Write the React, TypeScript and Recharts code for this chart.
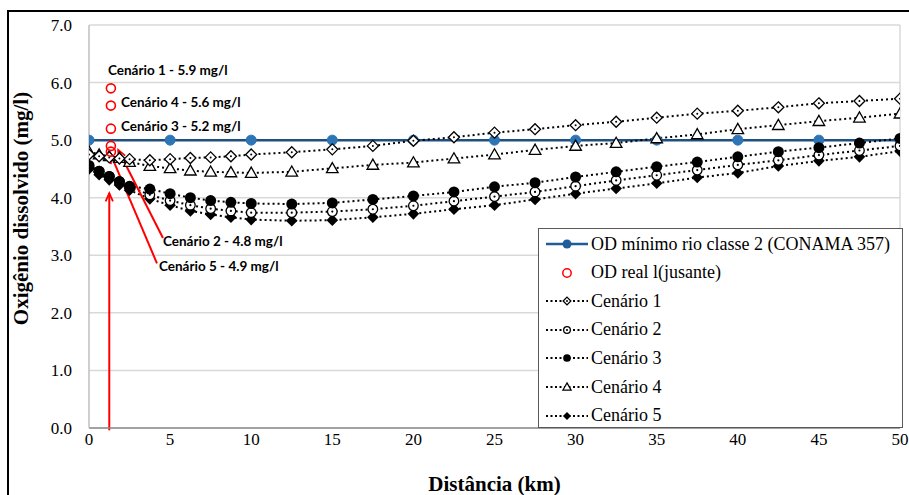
import React from 'react';
import {
  ComposedChart, Line, Scatter, XAxis, YAxis, CartesianGrid, ReferenceLine,
} from 'recharts';

// distance of each simulated point (km)
const distKm = [0, 0.625, 1.25, 1.875, 2.5, 3.75, 5, 6.25, 7.5, 8.75, 10, 12.5, 15, 17.5, 20, 22.5, 25, 27.5, 30, 32.5, 35, 37.5, 40, 42.5, 45, 47.5, 50];

const cenario1 = [4.75, 4.72, 4.70, 4.68, 4.67, 4.65, 4.67, 4.69, 4.70, 4.72, 4.75, 4.79, 4.84, 4.90, 4.99, 5.05, 5.13, 5.19, 5.26, 5.32, 5.39, 5.46, 5.51, 5.57, 5.64, 5.68, 5.72];
const cenario2 = [4.55, 4.46, 4.37, 4.28, 4.19, 4.05, 3.95, 3.87, 3.81, 3.77, 3.74, 3.74, 3.76, 3.80, 3.86, 3.94, 4.02, 4.10, 4.20, 4.30, 4.39, 4.48, 4.57, 4.65, 4.74, 4.82, 4.90];
const cenario3 = [4.56, 4.46, 4.37, 4.28, 4.20, 4.15, 4.07, 4.00, 3.95, 3.92, 3.90, 3.89, 3.91, 3.97, 4.03, 4.10, 4.19, 4.26, 4.36, 4.45, 4.54, 4.62, 4.71, 4.80, 4.87, 4.95, 5.03];
const cenario4 = [4.80, 4.75, 4.72, 4.69, 4.62, 4.55, 4.51, 4.47, 4.45, 4.44, 4.43, 4.45, 4.51, 4.57, 4.61, 4.68, 4.75, 4.83, 4.90, 4.95, 5.03, 5.10, 5.19, 5.26, 5.33, 5.39, 5.46];
const cenario5 = [4.50, 4.40, 4.31, 4.22, 4.13, 3.98, 3.87, 3.77, 3.71, 3.66, 3.62, 3.60, 3.61, 3.66, 3.72, 3.80, 3.87, 3.97, 4.07, 4.16, 4.25, 4.35, 4.43, 4.55, 4.64, 4.71, 4.81];

// CONAMA 357 class 2 minimum
const conamaKm = [0, 5, 10, 15, 20, 25, 30, 35, 40, 45, 50];
const conamaOD = [5, 5, 5, 5, 5, 5, 5, 5, 5, 5, 5];

// measured DO downstream, one per scenario
const realKm = [1.35, 1.35, 1.35, 1.35, 1.35];
const realOD = [5.9, 5.6, 5.2, 4.9, 4.8];

const xTicks = [0, 5, 10, 15, 20, 25, 30, 35, 40, 45, 50];
const yTicks = [0, 1, 2, 3, 4, 5, 6, 7];

const legendItems = ['OD mínimo rio classe 2 (CONAMA 357)', 'OD real l(jusante)', 'Cenário 1', 'Cenário 2', 'Cenário 3', 'Cenário 4', 'Cenário 5'];

const toRows = (xs: number[], ys: number[]) => xs.map((x, i) => ({ x, y: ys[i] }));

const SERIF = "'Liberation Serif', 'Times New Roman', serif";
const SANS = 'Lato, "Noto Sans", sans-serif';

type Kind = 'diamondOpen' | 'circleOpen' | 'circle' | 'triangle' | 'diamond';

function Marker({ cx, cy, kind, s = 1 }: { cx: number; cy: number; kind: Kind; s?: number }) {
  if (cx == null || cy == null) return null;
  if (kind === 'diamondOpen') {
    const r = 5.5 * s;
    return (
      <g>
        <polygon points={`${cx},${cy - r} ${cx + r},${cy} ${cx},${cy + r} ${cx - r},${cy}`} fill="#fff" stroke="#000" strokeWidth={1.3} />
        <circle cx={cx} cy={cy} r={1} fill="#000" />
      </g>
    );
  }
  if (kind === 'circleOpen') {
    const r = 4.8 * s;
    return (
      <g>
        <circle cx={cx} cy={cy} r={r} fill="#fff" stroke="#000" strokeWidth={1.3} />
        <circle cx={cx} cy={cy} r={1.1} fill="#000" />
      </g>
    );
  }
  if (kind === 'circle') {
    return <circle cx={cx} cy={cy} r={5.5 * s} fill="#000" />;
  }
  if (kind === 'triangle') {
    const r = 5.8 * s;
    return <polygon points={`${cx},${cy - r} ${cx + r},${cy + r * 0.75} ${cx - r},${cy + r * 0.75}`} fill="#fff" stroke="#000" strokeWidth={1.3} />;
  }
  const r = 5.8 * s;
  return <polygon points={`${cx},${cy - r} ${cx + r},${cy} ${cx},${cy + r} ${cx - r},${cy}`} fill="#000" />;
}

const dotFor = (kind: Kind) => (p: any) => <Marker key={`${kind}-${p.index}`} cx={p.cx} cy={p.cy} kind={kind} />;

function Arrow(props: any) {
  const { x1, y1, x2, y2 } = props;
  const ang = Math.atan2(y2 - y1, x2 - x1);
  const L = 9;
  const a1 = ang + Math.PI - 0.42;
  const a2 = ang + Math.PI + 0.42;
  return (
    <g>
      <line x1={x1} y1={y1} x2={x2} y2={y2} stroke="#ff0000" strokeWidth={2} />
      <polyline
        points={`${x2 + L * Math.cos(a1)},${y2 + L * Math.sin(a1)} ${x2},${y2} ${x2 + L * Math.cos(a2)},${y2 + L * Math.sin(a2)}`}
        fill="none" stroke="#ff0000" strokeWidth={1.8}
      />
    </g>
  );
}

function YTitle(props: any) {
  const vb = props.viewBox;
  const x = vb.x + 21;
  const y = vb.y + vb.height / 2 - 18;
  return (
    <text x={x} y={y} transform={`rotate(-90 ${x} ${y})`} textAnchor="middle" dominantBaseline="central"
      style={{ fontFamily: SERIF }} fontWeight="bold" fontSize={21} fill="#000">
      Oxigênio dissolvido (mg/l)
    </text>
  );
}

function XTitle(props: any) {
  const vb = props.viewBox;
  return (
    <text x={vb.x + vb.width / 2} y={vb.y + 63} textAnchor="middle" style={{ fontFamily: SERIF }} fontWeight="bold" fontSize={21} fill="#000">
      Distância (km)
    </text>
  );
}

function LegendSample({ i }: { i: number }) {
  const kinds: Kind[] = ['diamondOpen', 'circleOpen', 'circle', 'triangle', 'diamond'];
  return (
    <svg width={46} height={20} style={{ display: 'block' }}>
      {i === 0 && (
        <g>
          <line x1={2} y1={10} x2={44} y2={10} stroke="#1f5c99" strokeWidth={2.5} />
          <circle cx={23} cy={10} r={4.5} fill="#1f5c99" />
        </g>
      )}
      {i === 1 && <circle cx={23} cy={10} r={4.2} fill="none" stroke="#ff0000" strokeWidth={1.5} />}
      {i >= 2 && (
        <g>
          <line x1={2} y1={10} x2={44} y2={10} stroke="#000" strokeWidth={2} strokeDasharray="2 2.5" />
          <Marker cx={23} cy={10} kind={kinds[i - 2]} s={0.7} />
        </g>
      )}
    </svg>
  );
}

const noteStyle: React.CSSProperties = {
  position: 'absolute', fontFamily: SANS, fontWeight: 700, fontSize: 13.5, color: '#000', whiteSpace: 'nowrap', lineHeight: '15px',
};

export default function App() {
  const sc1 = toRows(distKm, cenario1);
  const sc2 = toRows(distKm, cenario2);
  const sc3 = toRows(distKm, cenario3);
  const sc4 = toRows(distKm, cenario4);
  const sc5 = toRows(distKm, cenario5);
  const conama = toRows(conamaKm, conamaOD);
  const real = toRows(realKm, realOD);
  const tickStyle = { fontSize: 17, fill: '#000', style: { fontFamily: SERIF } };

  return (
    <div style={{ position: 'absolute', left: 0, top: 0, width: 909, height: 495, overflow: 'hidden', background: '#fff' }}>
      <div style={{ position: 'absolute', left: 7, top: 10, width: 1000, height: 1000, border: '2px solid #000' }} />
      <div style={{ position: 'absolute', left: 0, top: 0 }}>
        <ComposedChart width={909} height={495} margin={{ top: 25, right: 9, bottom: 0, left: 0 }}>
          <CartesianGrid horizontal vertical={false} stroke="#d9d9d9" strokeWidth={1.5} />
          <XAxis
            dataKey="x" type="number" domain={[0, 50]} ticks={xTicks} allowDataOverflow
            axisLine={{ stroke: '#8c8c8c', strokeWidth: 1.5 }} tickLine={false} tickSize={0} tickMargin={5} height={67}
            tick={tickStyle}
            label={<XTitle />}
          />
          <YAxis
            dataKey="y" type="number" domain={[0, 7]} ticks={yTicks} allowDataOverflow
            axisLine={{ stroke: '#bfbfbf', strokeWidth: 1.5 }} tickLine={false} tickSize={0} tickMargin={17} width={89}
            tick={tickStyle}
            tickFormatter={(v: number) => v.toFixed(1)}
            label={<YTitle />}
          />
          <ReferenceLine x={50} stroke="#d9d9d9" strokeWidth={1.5} />
          <Line data={conama} dataKey="y" type="linear" stroke="#1f4e80" strokeWidth={2.5}
            dot={{ r: 5, fill: '#2e75b6', stroke: '#2e75b6', strokeWidth: 1 }} isAnimationActive={false} />
          <Line data={sc4} dataKey="y" type="linear" stroke="#000" strokeWidth={2} strokeDasharray="2 3" dot={dotFor('triangle')} isAnimationActive={false} />
          <Line data={sc1} dataKey="y" type="linear" stroke="#000" strokeWidth={2} strokeDasharray="2 3" dot={dotFor('diamondOpen')} isAnimationActive={false} />
          <Line data={sc5} dataKey="y" type="linear" stroke="#000" strokeWidth={2} strokeDasharray="2 3" dot={dotFor('diamond')} isAnimationActive={false} />
          <Line data={sc2} dataKey="y" type="linear" stroke="#000" strokeWidth={2} strokeDasharray="2 3" dot={dotFor('circleOpen')} isAnimationActive={false} />
          <Line data={sc3} dataKey="y" type="linear" stroke="#000" strokeWidth={2} strokeDasharray="2 3" dot={dotFor('circle')} isAnimationActive={false} />
          <ReferenceLine segment={[{ x: 1.25, y: -0.04 }, { x: 1.25, y: 4.08 }]} ifOverflow="visible" shape={<Arrow />} />
          <ReferenceLine segment={[{ x: 4.56, y: 3.3 }, { x: 1.8, y: 4.83 }]} ifOverflow="visible" shape={<Arrow />} />
          <ReferenceLine segment={[{ x: 4.19, y: 2.86 }, { x: 1.36, y: 4.74 }]} ifOverflow="visible" shape={<Arrow />} />
          <Scatter data={real} dataKey="y" isAnimationActive={false}
            shape={(p: any) => <circle cx={p.cx} cy={p.cy} r={4.5} fill="none" stroke="#ff0000" strokeWidth={1.6} />} />
        </ComposedChart>
      </div>

      <div style={{ ...noteStyle, left: 108, top: 63 }}>Cenário 1 - 5.9 mg/l</div>
      <div style={{ ...noteStyle, left: 121, top: 95 }}>Cenário 4 - 5.6 mg/l</div>
      <div style={{ ...noteStyle, left: 121, top: 119 }}>Cenário 3 - 5.2 mg/l</div>
      <div style={{ ...noteStyle, left: 163, top: 234 }}>Cenário 2 - 4.8 mg/l</div>
      <div style={{ ...noteStyle, left: 159, top: 259 }}>Cenário 5 - 4.9 mg/l</div>

      <div style={{
        position: 'absolute', left: 538, top: 228, width: 363, height: 198, border: '1px solid #595959',
        background: '#fff', boxSizing: 'content-box',
      }}>
        {legendItems.map((t, i) => (
          <div key={t} style={{ position: 'absolute', left: 5, top: 4 + i * 28.6, height: 22, display: 'flex', alignItems: 'center' }}>
            <LegendSample i={i} />
            <span style={{ fontFamily: SERIF, fontSize: 18, color: '#000', marginLeft: 1, whiteSpace: 'nowrap' }}>{t}</span>
          </div>
        ))}
      </div>
    </div>
  );
}
